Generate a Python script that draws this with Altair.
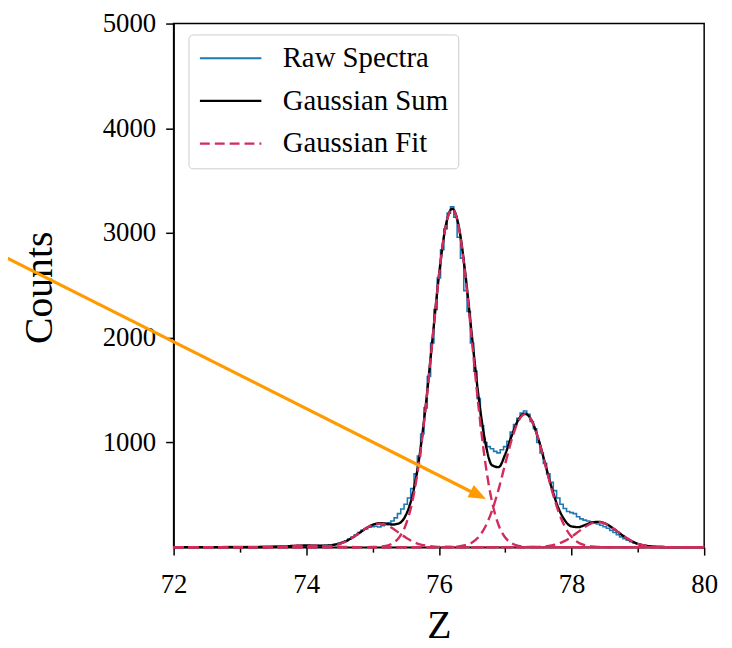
import altair as alt
import pandas as pd

# ---------------- data ----------------
SERIES = ["Raw Spectra", "Gaussian Sum", "Gaussian Fit"]
COLORS = ["#1f77b4", "#000000", "#d22b5c"]

# common grid for the fitted curves (Z = 72.0 ... 80.0, step 0.1)
Z_GRID = [round(72 + 0.1 * i, 1) for i in range(81)]

SUM_COUNTS = [0] * 13 + [
    1, 2, 4, 6, 9, 12, 14, 16, 15, 15,
    15, 21, 34, 58, 93, 136, 180, 214, 229, 225,
    216, 228, 304, 493, 836, 1343, 1965, 2589, 3058, 3232,
    3063, 2605, 2004, 1427, 1001, 783, 764, 887, 1067, 1218,
    1274, 1208, 1034, 802, 568, 378, 255, 198, 191, 211,
    234, 242, 228, 192, 146, 99, 60, 32, 16, 7,
    3, 1] + [0] * 6

FIT_G0 = [0] * 13 + [1, 2, 4, 6, 9, 12, 14, 15, 14, 12, 9, 6, 4, 2, 1] + [0] * 53
FIT_G1 = [0] * 20 + [1, 1, 2.5, 6, 15, 30, 56, 92, 136, 180, 213, 225, 213, 180,
                     136, 92, 56, 30, 15, 6, 2.5, 1, 1] + [0] * 38
FIT_G2 = [0] * 30 + [1, 4, 12, 36, 92, 212, 437, 806, 1328, 1959, 2586, 3056, 3230,
                     3056, 2586, 1959, 1328, 806, 437, 212, 92, 36, 12, 4, 1] + [0] * 26
FIT_G3 = [0] * 41 + [1, 2, 7, 19, 45, 99, 195, 346, 552, 795, 1031, 1206, 1270,
                     1206, 1031, 795, 552, 346, 195, 99, 45, 19, 7, 2, 1] + [0] * 15
FIT_G4 = [0] * 54 + [1, 3, 7, 16, 32, 60, 99, 146, 192, 227, 240, 227, 192, 146,
                     99, 60, 32, 16, 7, 3, 1] + [0] * 6
FITS = {"G0": FIT_G0, "G1": FIT_G1, "G2": FIT_G2, "G3": FIT_G3, "G4": FIT_G4}

# raw histogram (bins of 0.05 between 73.5 and 79.5)
RAW_Z = [72.0] + [round(73.5 + 0.05 * i, 2) for i in range(121)] + [80.0]
RAW_COUNTS = [0] + [
    6, 8, 7, 9, 10, 12, 11, 14, 13, 15, 14, 16, 15, 14, 16, 15, 17,
    19, 22, 28, 36, 46, 60, 78, 96, 118, 140, 162, 175, 190, 196, 200, 193, 205, 214, 232, 250,
    280, 320, 365, 410, 470, 560, 700, 870, 1080, 1330, 1630, 1950, 2270, 2570, 2840, 3040, 3190, 3250, 3150, 2960,
    2760, 2450, 2250, 1950, 1680, 1420, 1160, 1000, 960, 940, 915, 900, 930, 960, 1010, 1100, 1170, 1230, 1280, 1300,
    1270, 1200, 1130, 1000, 900, 800, 700, 620, 540, 470, 410, 370, 340, 330, 320, 290, 270, 258, 250, 240,
    230, 222, 210, 195, 180, 160, 140, 118, 98, 80, 66, 52, 40, 30, 22, 16, 12, 9, 7, 6, 5, 4, 4, 3,
] + [0]

# annotation arrow (data coordinates): start, end of shaft, tip
ARROW_START = (69.4, 2790)
ARROW_SHAFT_END = (76.63, 484)
ARROW_TIP = (76.71, 461)

X_TICKS = list(range(72, 81))
Y_TICKS = [1000, 2000, 3000, 4000, 5000]

# ---------------- tables ----------------
raw_df = pd.DataFrame({"z": RAW_Z, "counts": RAW_COUNTS, "series": SERIES[0]})
sum_df = pd.DataFrame({"z": Z_GRID, "counts": SUM_COUNTS, "series": SERIES[1]})
fit_df = pd.concat(
    [pd.DataFrame({"z": Z_GRID, "counts": v, "series": SERIES[2], "component": k})
     for k, v in FITS.items()],
    ignore_index=True,
)
arrow_df = pd.DataFrame({"z": [ARROW_START[0]], "counts": [ARROW_START[1]],
                         "z2": [ARROW_SHAFT_END[0]], "counts2": [ARROW_SHAFT_END[1]]})
tip_df = pd.DataFrame({"z": [ARROW_TIP[0]], "counts": [ARROW_TIP[1]]})

SERIF = "Liberation Serif, Times New Roman, serif"

x_enc = alt.X(
    "z:Q",
    scale=alt.Scale(domain=[72, 80], nice=False, zero=False),
    axis=alt.Axis(
        values=X_TICKS,
        format="d",
        labelExpr="datum.value % 2 == 0 ? datum.label : ''",
        tickSize={"condition": {"test": "datum.value % 2 == 1", "value": 5}, "value": 8},
        labelPadding=17,
        labelFont=SERIF,
        labelFontSize=27,
        labelFlush=False,
        labelOverlap=False,
        title="Z",
        titleFont=SERIF,
        titleFontSize=40,
        titleX=267.5,
        titleY=79,
        titleAlign="center",
        titleBaseline="middle",
    ),
)
y_enc = alt.Y(
    "counts:Q",
    scale=alt.Scale(domain=[0, 5000], nice=False),
    axis=alt.Axis(
        values=Y_TICKS,
        format="d",
        tickSize=8,
        labelPadding=10,
        labelFont=SERIF,
        labelFontSize=27,
        labelFlush=False,
        title="Counts",
        titleFont=SERIF,
        titleFontSize=40,
        titleX=-135,
        titleY=266,
        titleAngle=-90,
        titleAlign="center",
        titleBaseline="middle",
    ),
)

legend = alt.Legend(
    title=None,
    orient="none",
    legendX=15,
    legendY=11,
    symbolType="stroke",
    symbolSize=3844,
    symbolStrokeWidth=2.2,
    labelFont=SERIF,
    labelFontSize=29,
    labelLimit=400,
    labelOffset=20,
    padding=10,
    rowPadding=14,
    clipHeight=28,
    strokeColor="#cccccc",
    fillColor="white",
    cornerRadius=4,
)
color_enc = alt.Color("series:N", scale=alt.Scale(domain=SERIES, range=COLORS), legend=legend)
dash_enc = alt.StrokeDash(
    "series:N",
    scale=alt.Scale(domain=SERIES, range=[[1, 0], [1, 0], [10, 5]]),
    legend=legend,
)

raw = alt.Chart(raw_df).mark_line(interpolate="step", strokeWidth=1.6).encode(
    x=x_enc, y=y_enc, color=color_enc, strokeDash=dash_enc
)
gsum = alt.Chart(sum_df).mark_line(interpolate="monotone", strokeWidth=2.4).encode(
    x=x_enc, y=y_enc, color=color_enc, strokeDash=dash_enc
)
gfit = alt.Chart(fit_df).mark_line(interpolate="monotone", strokeWidth=2.4).encode(
    x=x_enc, y=y_enc, color=color_enc, strokeDash=dash_enc, detail="component:N"
)
shaft = alt.Chart(arrow_df).mark_rule(color="#ff9a00", strokeWidth=3.2).encode(
    x=x_enc, y=y_enc, x2="z2:Q", y2="counts2:Q"
)
head = alt.Chart(tip_df).mark_point(
    shape="M0,0L-2,-0.8L-2,0.8Z", size=300, angle=27, filled=True,
    color="#ff9a00", opacity=1, strokeWidth=0,
).encode(x=x_enc, y=y_enc)

chart = (
    alt.layer(raw, gsum, gfit, shaft, head)
    .properties(
        width=535,
        height=528,
        autosize=alt.AutoSizeParams(type="none"),
        padding={"left": 167, "top": 13, "right": 20, "bottom": 100},
        background="white",
    )
    .configure(font=SERIF)
    .configure_axis(
        labelFont=SERIF,
        titleFont=SERIF,
        labelColor="black",
        titleColor="black",
        titleFontWeight="normal",
        domainColor="black",
        domainWidth=1.5,
        tickColor="black",
        tickWidth=1.5,
        grid=False,
    )
    .configure_legend(labelFont=SERIF, labelColor="black")
    .configure_view(stroke="black", strokeWidth=1.5)
)

chart.save("out.html", embed_options={"renderer": "svg", "actions": False})
